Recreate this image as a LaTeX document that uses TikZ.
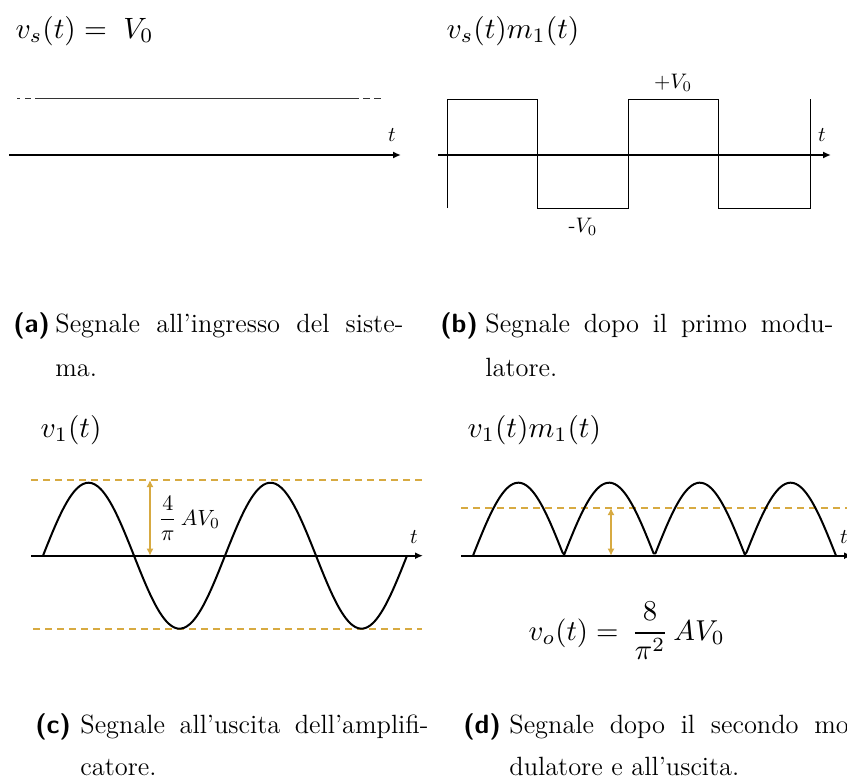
\documentclass[tikz,border=0pt]{standalone}
\usepackage{amsmath,amssymb}
\usepackage{fontspec}
\usepackage{xcolor}
\usepackage{tikz}
\usetikzlibrary{arrows.meta, positioning}
\definecolor{ampgold}{RGB}{215,170,65}
\tikzset{
  axis/.style={line width=1pt, -{Latex[length=4pt,width=3.5pt]}},
  wave/.style={line width=1pt, line join=round},
  squarewave/.style={line width=0.5pt},
  constline/.style={line width=0.5pt, black!80},
  level/.style={ampgold, line width=0.6pt, dash pattern=on 3.5pt off 2.5pt},
  span/.style={ampgold, line width=1.1pt, {Latex[length=3.5pt,width=3.5pt]}-{Latex[length=3.5pt,width=3.5pt]}},
  sigtitle/.style={inner sep=0pt, anchor=base west, scale=1.47},
  tlabel/.style={inner sep=0pt, scale=1.05},
  captext/.style={inner sep=0pt, anchor=base west, font=\fontsize{13.2}{16}\selectfont},
  sublabel/.style={inner sep=0pt, anchor=base west, font=\fontsize{13.2}{16}\selectfont\sffamily\bfseries}
}
\newcommand{\capline}[1]{\makebox[174pt][s]{#1}}

\begin{document}
\begin{tikzpicture}[x=0.5pt, y=-0.5pt]
\useasboundingbox (0,0) rectangle (847,782);

% (a) Input signal
\node[sigtitle] (tita) at (15,38) {$v_s(t) =\; V_0$};
\coordinate (aL) at (9,155);
\coordinate (aR) at (401,155);
\draw[axis] (aL) -- (aR);
\node[tlabel] (ta) at (392,135) {$t$};
\coordinate (c0) at (17,98);
\coordinate (c1) at (35,98);
\coordinate (c2) at (352,98);
\coordinate (c3) at (382,98);
\draw[constline, dash pattern=on 1.5pt off 2.5pt on 3pt off 2pt] (c0) -- (c1);
\draw[constline] (c1) -- (c2);
\draw[constline, dash pattern=on 3.5pt off 2pt] (c2) -- (c3);

% (b) After first modulator
\node[sigtitle] (titb) at (446,38) {$v_s(t)m_1(t)$};
\coordinate (bL) at (438,155);
\coordinate (bR) at (831,155);
\draw[axis] (bL) -- (bR);
\node[tlabel] (tb) at (822,135) {$t$};
\draw[squarewave] (447,208) -- (447,99) -- (537,99) -- (537,208) -- (628,208)
  -- (628,99) -- (718,99) -- (718,208) -- (810,208) -- (810,99);
\node[tlabel] (vplus) at (673,83) {$+V_0$};
\node[tlabel] (vminus) at (583,227) {-$V_0$};

% Captions (a) and (b)
\node[sublabel] (laba) at (13,332) {(a)};
\node[captext] (capa) at (55,332) {\capline{Segnale all'ingresso del siste-}};
\node[captext] (capa2) at (55,376) {ma.};
\node[sublabel] (labb) at (440,332) {(b)};
\node[captext] (capb) at (485,332) {\capline{Segnale dopo il primo modu-}};
\node[captext] (capb2) at (485,376) {latore.};

% (c) Amplifier output
\node[sigtitle] (titc) at (40,437) {$v_1(t)$};
\coordinate (cL) at (31,555.7);
\coordinate (cR) at (423,555.7);
\draw[axis] (cL) -- (cR);
\node[tlabel] (tc) at (414,537) {$t$};
\draw[level] (31,480) -- (422,480);
\draw[level] (33,629) -- (422,629);
\draw[wave] plot[domain=43:407, samples=120, smooth] (\x, {555.7 - 73*sin((\x-43)/182*360)});
\coordinate (ctop) at (150,480);
\coordinate (cbot) at (150,555.7);
\draw[span] (ctop) -- (cbot);
\node[tlabel, anchor=west, scale=1.05] (ampc) at (158,518) {$\dfrac{4}{\pi}\,AV_0$};

% (d) Second modulator and output
\node[sigtitle] (titd) at (467,437) {$v_1(t)m_1(t)$};
\coordinate (dL) at (461,555.7);
\coordinate (dR) at (852,555.7);
\draw[axis] (dL) -- (dR);
\node[tlabel] (td) at (844,537) {$t$};
\draw[level] (461,508) -- (860,508);
\draw[wave] plot[domain=473:836, samples=200] (\x, {555.7 - 73*abs(sin((\x-473)/181.5*360))});
\coordinate (dtop) at (611,508);
\coordinate (dbot) at (611,555.7);
\draw[span] (dtop) -- (dbot);
\node[inner sep=0pt, anchor=west, scale=1.44] (vout) at (528,631)
  {$v_o(t) = \,\dfrac{8}{\pi^2}\,AV_0$};

% Captions (c) and (d)
\node[sublabel] (labc) at (35,733) {(c)};
\node[captext] (capc) at (80,733) {\capline{Segnale all'uscita dell'amplifi-}};
\node[captext] (capc2) at (80,775) {catore.};
\node[sublabel] (labd) at (463,733) {(d)};
\node[captext] (capd) at (509,733) {\capline{Segnale dopo il secondo mo-}};
\node[captext] (capd2) at (509,775) {dulatore e all'uscita.};
\end{tikzpicture}
\end{document}
